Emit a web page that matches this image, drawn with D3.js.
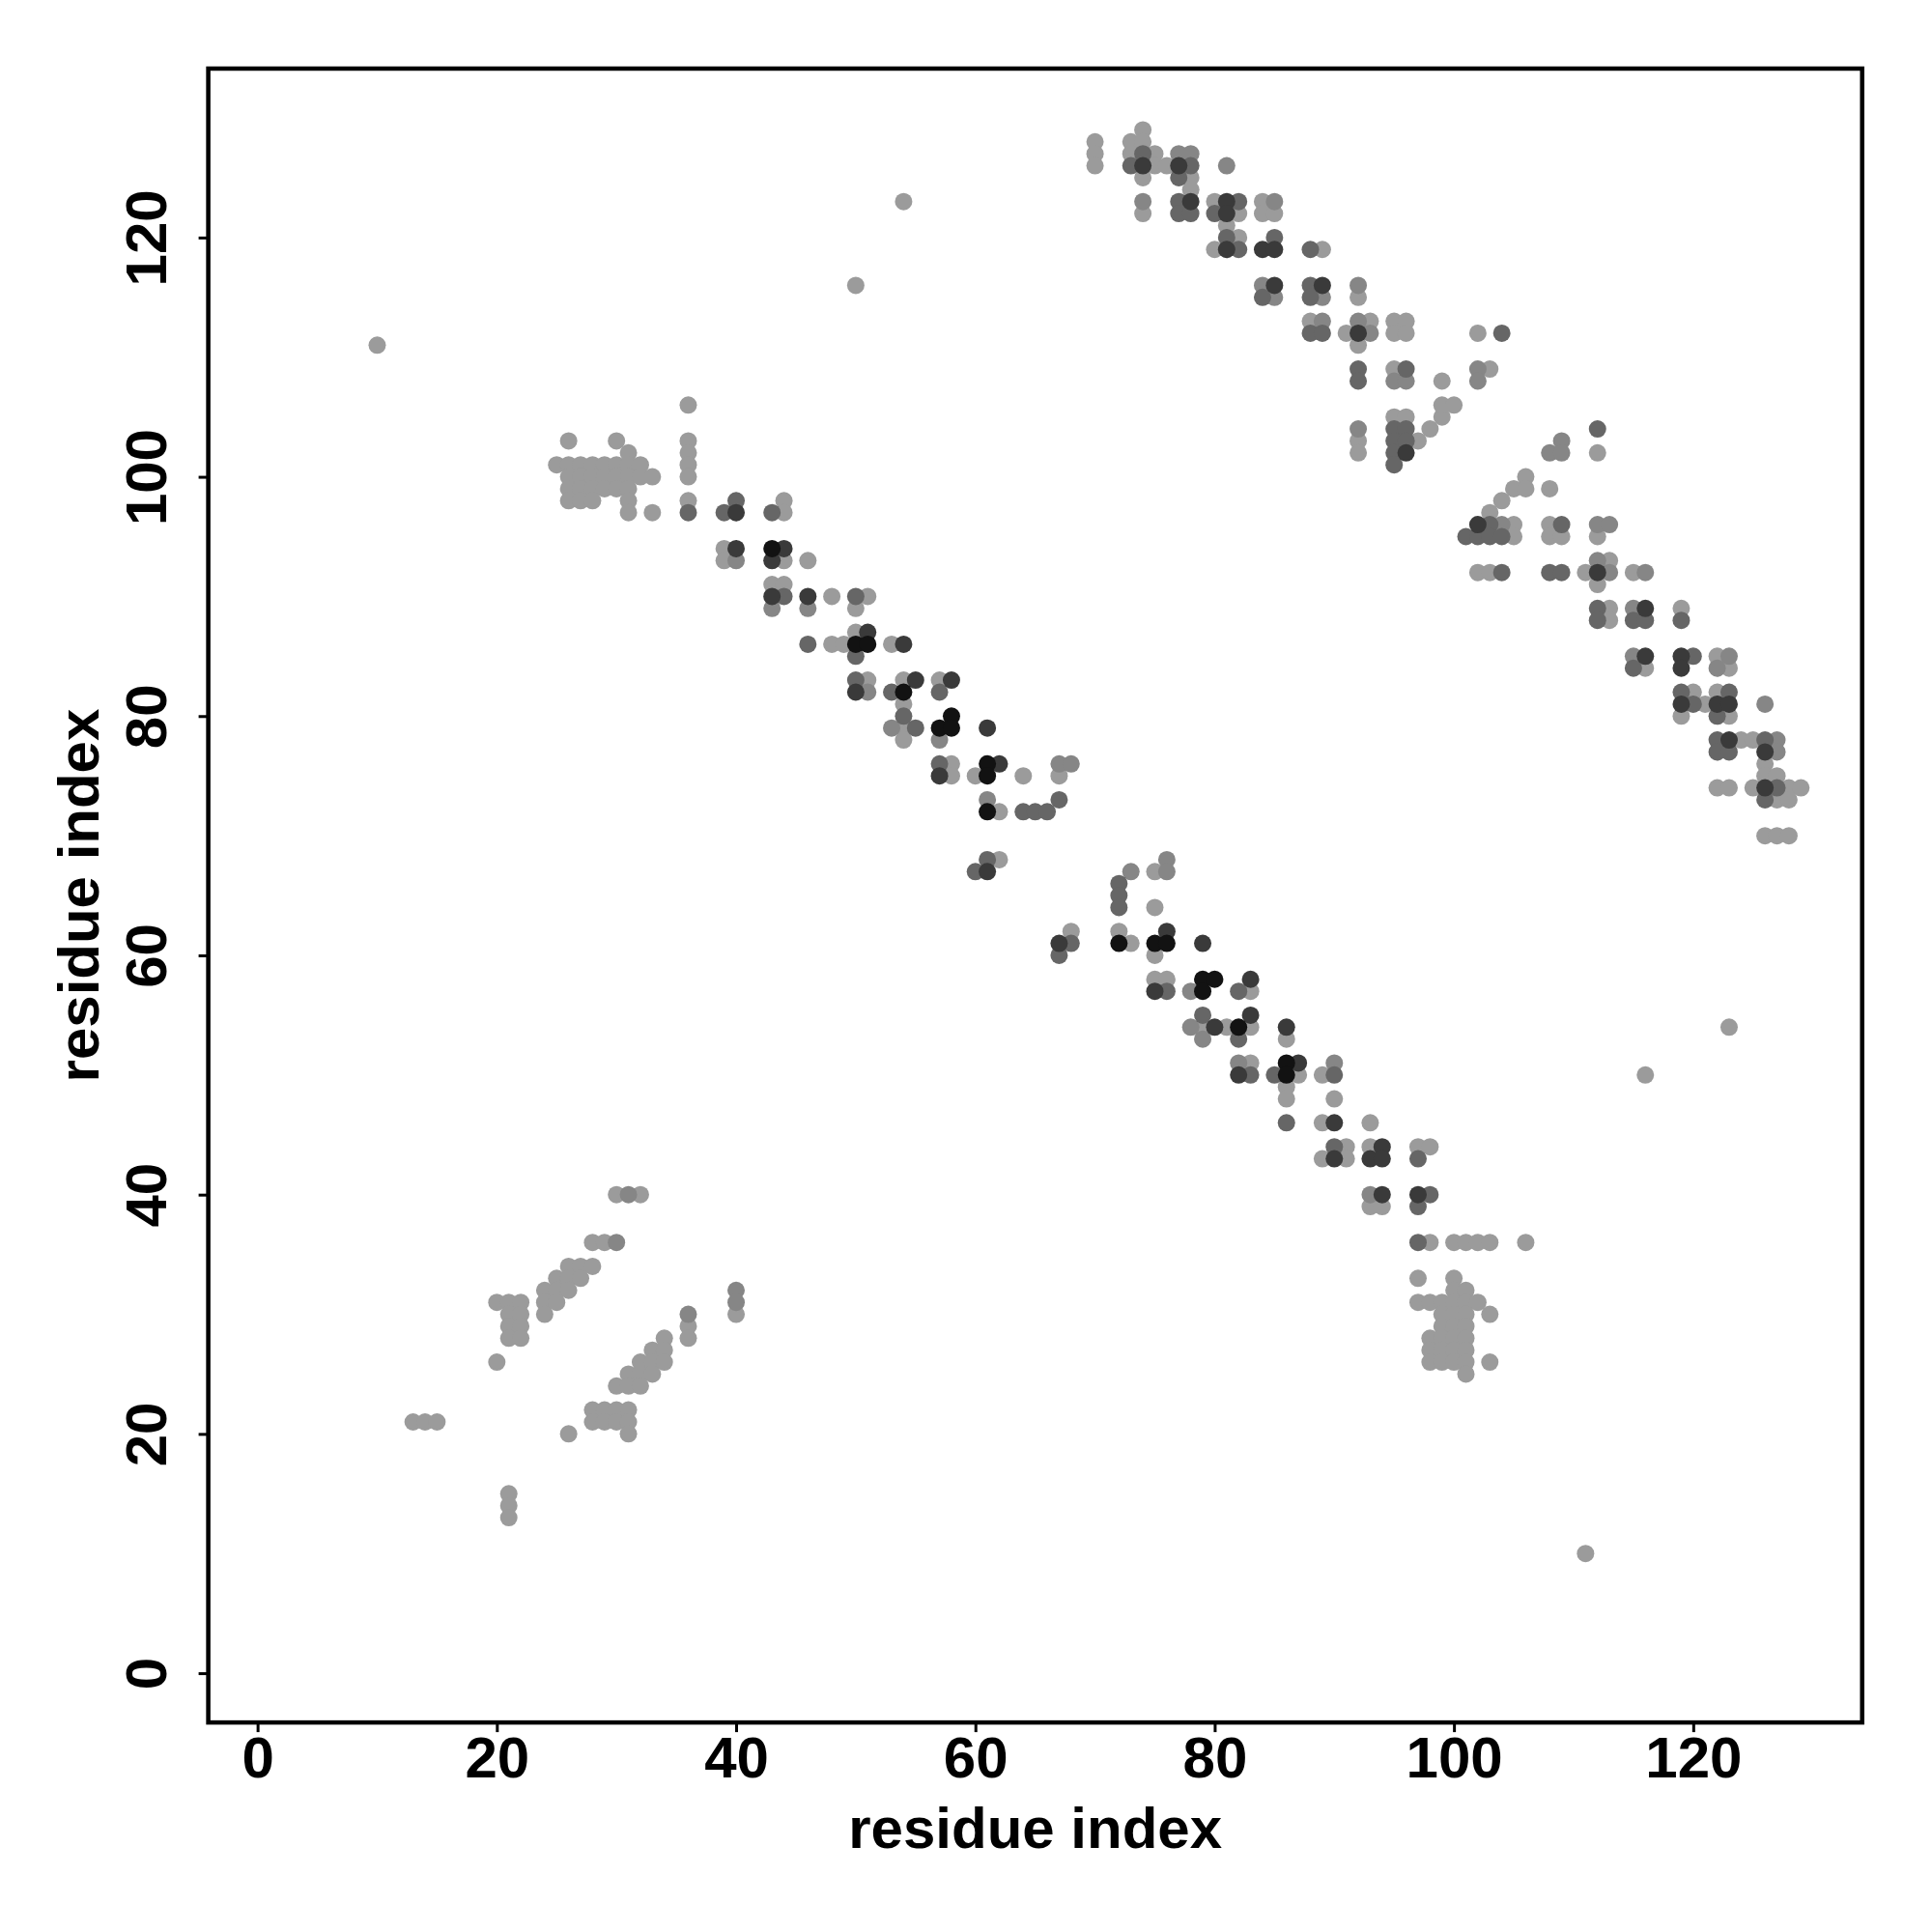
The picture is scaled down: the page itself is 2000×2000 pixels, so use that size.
<!DOCTYPE html>
<html>
<head>
<meta charset="utf-8">
<script src="https://cdn.jsdelivr.net/npm/d3@7"></script>
<style>
  html, body { margin: 0; padding: 0; background: #fff; }
  text { font-family: "Liberation Sans", Arial, Helvetica, sans-serif; font-weight: bold; }
</style>
</head>
<body>
<svg id="chart"></svg>
<script>
const width = 2000,
  height = 2000;

// contacts: [residue i, residue j, strength level 1 (weak) .. 5 (strong)]
const topArc = [
  [70,128,1],[70,127,1],[70,126,1],
  [73,128,1],[73,127,1],[73,126,3],
  [74,129,1],[74,128,1],[74,127,3],[74,126,4],[74,125,1],[74,123,2],[74,122,1],
  [75,127,1],[75,126,1],[76,126,1],
  [77,127,2],[77,126,4],[77,125,3],[77,123,3],[77,122,3],
  [78,127,2],[78,126,3],[78,125,1],[78,124,1],[78,123,4],[78,122,3],
  [80,123,1],[80,122,3],[80,119,1],
  [81,126,2],[81,123,4],[81,122,4],[81,121,1],[81,120,3],[81,119,4],
  [82,123,3],[82,122,1],[82,120,1],[82,119,3],
  [84,123,1],[84,122,1],[84,119,4],[84,116,2],[84,115,3],
  [85,123,2],[85,122,1],[85,120,3],[85,119,4],[85,116,4],[85,115,2],
  [88,119,3],[88,116,3],[88,115,3],[88,113,1],[88,112,3],
  [89,119,1],[89,116,4],[89,115,2],[89,113,2],[89,112,3],
  [91,112,1],
  [92,116,2],[92,115,1],[92,113,2],[92,112,4],[92,111,1],[92,109,3],[92,108,3],[92,104,2],[92,103,1],[92,102,1],
  [93,113,1],[93,112,2],
  [95,113,1],[95,112,1],[95,109,1],[95,108,2],[95,105,1],[95,104,3],[95,103,3],[95,102,3],[95,101,3],
  [96,113,1],[96,112,1],[96,109,3],[96,108,2],[96,105,1],[96,104,3],[96,103,3],[96,102,4],
  [97,103,1],[98,104,1],[99,105,1],[99,106,1],[100,106,1],[99,108,1],
  [102,112,1],[102,109,2],[102,108,2],[103,109,1],[104,112,3]
];

const rightArc = [
  [101,95,3],[102,96,4],[102,95,3],[102,92,1],[103,97,1],[103,96,3],[103,95,3],[103,92,1],
  [104,98,1],[104,96,2],[104,95,3],[104,92,3],[105,99,1],[105,96,1],[105,95,1],
  [106,100,1],[106,99,1],[108,99,1],[108,96,1],[108,95,1],[108,92,3],[108,102,2],
  [109,103,2],[109,102,2],[109,96,3],[109,95,1],[109,92,3],[111,92,1],
  [112,104,3],[112,102,1],[112,96,2],[112,95,1],[112,93,2],[112,92,4],[112,91,1],[112,89,3],[112,88,3],
  [113,96,2],[113,93,1],[113,92,2],[113,89,1],[113,88,1],
  [115,92,1],[115,89,2],[115,88,3],[115,85,2],[115,84,3],
  [116,92,2],[116,89,4],[116,88,3],[116,85,4],[116,84,1],
  [119,89,1],[119,88,3],[119,85,4],[119,84,4],[119,82,3],[119,81,4],[119,80,1],
  [120,85,3],[120,82,1],[120,81,3],[121,81,1],
  [122,85,1],[122,84,2],[122,82,1],[122,81,4],[122,80,3],[122,78,3],[122,77,3],
  [123,85,2],[123,84,1],[123,82,3],[123,81,4],[123,80,1],[123,78,4],[123,77,3],
  [124,78,1],[125,78,1],
  [126,81,2],[126,78,3],[126,77,4],[126,76,1],[126,75,1],[126,74,4],[126,73,3],[126,70,1],
  [127,78,2],[127,77,2],[127,75,1],[127,74,3],[127,73,1],[127,70,1],
  [128,74,1],[128,73,1],[128,70,1],[129,74,1],
  [122,74,1],[123,74,1],[125,74,1]
];

const midUpper = [
  [36,106,1],[36,103,1],[36,102,1],[36,101,1],[36,100,1],[36,98,1],[36,97,3],
  [26,103,1],[30,103,1],[31,102,1],
  [25,101,1],[26,101,1],[27,101,1],[28,101,1],[29,101,1],[30,101,1],[31,101,1],[32,101,1],
  [26,100,1],[27,100,1],[28,100,1],[29,100,1],[30,100,1],[31,100,1],[32,100,1],[33,100,1],
  [26,99,1],[27,99,1],[28,99,1],[29,99,1],[30,99,1],[31,99,1],
  [26,98,1],[27,98,1],[28,98,1],[31,98,1],[31,97,1],[33,97,1],
  [39,97,3],[40,98,3],[40,97,4],[43,97,3],[44,98,1],[44,97,1],
  [39,94,1],[39,93,1],[40,94,4],[40,93,2],
  [43,94,5],[43,93,4],[44,94,4],[44,93,1],[46,93,1],
  [43,91,1],[43,90,4],[43,89,2],[44,91,1],[44,90,3],[46,90,4],[46,89,2],[48,90,1],
  [46,86,3],[48,86,1],[49,86,1],
  [50,90,3],[50,89,1],[51,90,1],
  [50,87,1],[51,87,4],[50,86,5],[51,86,5],[53,86,1],[54,86,4],[50,85,3],
  [50,83,3],[51,83,1],[50,82,4],[51,82,2],
  [54,83,1],[55,83,4],[57,83,1],[58,83,4],
  [53,82,3],[54,82,5],[57,82,3],
  [54,81,1],[54,80,3],[58,80,5],
  [53,79,2],[54,79,1],[55,79,3],[57,79,5],[58,79,5],[61,79,4],
  [54,78,1],[57,78,2],
  [57,76,3],[58,76,1],[61,76,5],[62,76,4],[67,76,2],[68,76,2],
  [57,75,4],[58,75,1],[60,75,1],[61,75,5],[64,75,1],[67,75,1],
  [61,73,2],[67,73,3],
  [61,72,5],[62,72,1],[64,72,3],[65,72,3],[66,72,3],
  [61,68,3],[62,68,1],[60,67,3],[61,67,4],
  [68,62,1],[67,61,4],[68,61,3],[67,60,3]
];

const midLower = [
  [72,66,3],[72,65,3],[72,64,3],[73,67,2],[75,67,1],[75,64,1],[76,68,2],[76,67,2],
  [72,62,1],[76,62,4],
  [72,61,5],[73,61,1],[75,61,5],[76,61,5],[79,61,4],
  [75,60,1],
  [75,58,1],[76,58,1],[79,58,5],[80,58,5],[83,58,4],
  [75,57,4],[76,57,3],[78,57,2],[79,57,5],[82,57,3],[83,57,1],
  [79,55,3],[83,55,4],
  [78,54,2],[79,54,1],[80,54,4],[81,54,1],[82,54,5],[83,54,1],[86,54,4],
  [79,53,2],[82,53,3],[86,53,1],
  [82,51,2],[83,51,1],[86,51,5],[87,51,4],[90,51,2],
  [82,50,4],[83,50,3],[85,50,3],[86,50,5],[87,50,1],[89,50,1],[90,50,3],
  [86,49,1],[86,48,1],[90,48,1],
  [86,46,3],[89,46,1],[90,46,4],[93,46,1],
  [90,44,3],[91,44,1],[93,44,1],[94,44,4],[97,44,1],[98,44,1],
  [89,43,1],[90,43,4],[91,43,1],[93,43,4],[94,43,4],[97,43,3],
  [93,40,2],[94,40,4],[97,40,4],[98,40,3],
  [93,39,1],[94,39,1],[97,39,3]
];

const lowerCluster = [
  [97,36,3],[98,36,1],[100,36,1],[101,36,1],[102,36,1],[103,36,1],[106,36,1],
  [97,33,1],[100,33,1],[100,32,1],[101,32,1],
  [97,31,1],[98,31,1],[99,31,1],[100,31,1],[101,31,1],[102,31,1],
  [99,30,1],[100,30,1],[101,30,1],[103,30,1],
  [99,29,1],[100,29,1],[101,29,1],
  [98,28,1],[99,28,1],[100,28,1],[101,28,1],
  [98,27,1],[99,27,1],[100,27,1],[101,27,1],
  [98,26,1],[99,26,1],[100,26,1],[101,26,1],[103,26,1],
  [101,25,1]
];

const bottomLeft = [
  [30,40,1],[31,40,2],[32,40,1],
  [28,36,1],[29,36,1],[30,36,2],
  [26,34,1],[27,34,1],[28,34,1],
  [25,33,1],[26,33,1],[27,33,1],
  [24,32,1],[25,32,1],[26,32,1],
  [20,31,1],[21,31,1],[22,31,1],[24,31,1],[25,31,1],
  [21,30,1],[22,30,1],[24,30,1],
  [21,29,1],[22,29,1],[21,28,1],[22,28,1],
  [20,26,1],
  [40,32,2],[40,31,2],[40,30,1],
  [36,30,2],[36,29,1],[36,28,1],
  [34,28,1],[33,27,1],[34,27,1],[32,26,1],[33,26,1],[34,26,1],
  [31,25,1],[32,25,1],[33,25,1],[30,24,1],[31,24,1],[32,24,1],
  [28,22,1],[29,22,1],[30,22,1],[31,22,1],
  [28,21,1],[29,21,1],[30,21,1],[31,21,1],
  [26,20,1],[31,20,1],
  [13,21,1],[14,21,1],[15,21,1],
  [21,15,1],[21,14,1],[21,13,1]
];

const isolated = [
  [10,111,1],[50,116,1],[54,123,1],[111,10,1],[116,50,1],[123,54,1]
];

const tickValues = [0, 20, 40, 60, 80, 100, 120];
const levelGrays = ["#9b9b9b", "#868686", "#666666", "#3a3a3a", "#121212"];
const axisTitle = "residue index";

const svg = d3.select("#chart").attr("width", width).attr("height", height);
svg.append("rect").attr("width", width).attr("height", height).attr("fill", "#fff");

const box = { left: 215.6, right: 1927.7, top: 71, bottom: 1783.1 };

const x = d3.scaleLinear().domain([-4.12, 134.12]).range([box.left, box.right]);
const y = d3.scaleLinear().domain([-4.12, 134.12]).range([box.bottom, box.top]);
const color = d3.scaleOrdinal().domain([1, 2, 3, 4, 5]).range(levelGrays);

const contacts = [].concat(topArc, rightArc, midUpper, midLower, lowerCluster, bottomLeft, isolated)
  .map(([i, j, level]) => ({ i, j, level }))
  .sort((a, b) => a.level - b.level); // darker contacts drawn on top

svg.append("g")
  .selectAll("circle")
  .data(contacts)
  .join("circle")
  .attr("cx", d => x(d.i))
  .attr("cy", d => y(d.j))
  .attr("r", 9)
  .attr("fill", d => color(d.level));

// frame
svg.append("rect")
  .attr("x", box.left)
  .attr("y", box.top)
  .attr("width", box.right - box.left)
  .attr("height", box.bottom - box.top)
  .attr("fill", "none")
  .attr("stroke", "#000")
  .attr("stroke-width", 4.5);

// x axis
const gx = svg.append("g")
  .attr("transform", `translate(0,${box.bottom})`)
  .call(d3.axisBottom(x).tickValues(tickValues).tickSize(10).tickPadding(4));
gx.select(".domain").remove();
gx.selectAll(".tick line").attr("stroke", "#000").attr("stroke-width", 3);
gx.selectAll(".tick text").attr("font-size", 60).attr("fill", "#000");

// y axis, labels parallel to the axis
const gy = svg.append("g")
  .attr("transform", `translate(${box.left},0)`)
  .call(d3.axisLeft(y).tickValues(tickValues).tickSize(10));
gy.select(".domain").remove();
gy.selectAll(".tick line").attr("stroke", "#000").attr("stroke-width", 3);
gy.selectAll(".tick text")
  .attr("font-size", 60)
  .attr("fill", "#000")
  .attr("x", 0)
  .attr("y", -(box.left - 172))
  .attr("dy", null)
  .attr("text-anchor", "middle")
  .attr("transform", "rotate(-90)");

// axis titles
svg.append("text")
  .attr("x", (box.left + box.right) / 2)
  .attr("y", 1913)
  .attr("text-anchor", "middle")
  .attr("font-size", 60)
  .text(axisTitle);

svg.append("text")
  .attr("transform", `translate(102,${(box.top + box.bottom) / 2}) rotate(-90)`)
  .attr("text-anchor", "middle")
  .attr("font-size", 60)
  .text(axisTitle);
</script>
</body>
</html>
